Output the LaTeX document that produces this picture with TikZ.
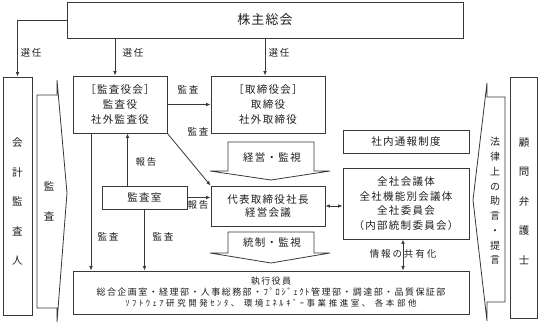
\documentclass[tikz,border=0pt]{standalone}
\usepackage{fontspec}
\setmainfont{Noto Sans CJK JP}
\newfontfamily\jpMain{Noto Sans CJK JP}[LetterSpace=12]
\newfontfamily\jpBig{Noto Sans CJK JP}[LetterSpace=8]
\newfontfamily\jpLab{Noto Sans CJK JP}[LetterSpace=20]
\newfontfamily\jpExec{Noto Sans CJK JP}[LetterSpace=16]
\newfontfamily\jpSmall{Noto Sans CJK JP}[LetterSpace=30]
\newfontfamily\jpPlain{Noto Sans CJK JP}
\usetikzlibrary{arrows.meta}
\definecolor{ln}{gray}{0.22}
\definecolor{tx}{gray}{0.12}
\begin{document}
\begin{tikzpicture}[x=1pt,y=-1pt,
  box/.style={draw=ln, line width=0.9pt, inner sep=0pt, align=center, text=tx,
    font=\fontsize{10.5pt}{15pt}\jpMain},
  arr/.style={draw=ln, line width=0.8pt, -{Latex[length=4.5pt,width=3.6pt]}},
  darr/.style={draw=ln, line width=0.8pt, {Latex[length=4.5pt,width=3.6pt]}-{Latex[length=4.5pt,width=3.6pt]}},
  lab/.style={inner sep=0pt, text=tx, font=\fontsize{9.5pt}{11pt}\jpLab},
  ctext/.style={inner sep=0pt, text=tx, font=\fontsize{10.5pt}{15pt}\jpMain},
  vtext/.style={inner sep=0pt, text=tx, align=center, font=\fontsize{10.5pt}{29.5pt}\jpPlain},
  vtextb/.style={inner sep=0pt, text=tx, align=center, font=\fontsize{10pt}{14.75pt}\jpPlain},
  callout/.style={draw=ln, line width=0.8pt, line join=miter}
]
\useasboundingbox (0,0) rectangle (542,325);
\fill[white] (0,0) rectangle (542,325);

% boxes
\node[box, minimum width=396pt, minimum height=36pt, font=\fontsize{13pt}{15pt}\jpBig] (kabu) at (265,20) {株主総会};
\node[box, minimum width=29pt, minimum height=238pt] (kaikei) at (17.5,196) {};
\node[box, minimum width=27pt, minimum height=241pt] (komon) at (524,197.5) {};
\node[box, minimum width=94pt, minimum height=57pt] (kansa) at (120,104.5) {［監査役会］\\監査役\\社外監査役};
\node[box, minimum width=114pt, minimum height=57pt] (tori) at (268,104.5) {［取締役会］\\取締役\\社外取締役};
\node[box, minimum width=126pt, minimum height=23pt] (tsuho) at (406,141.5) {社内通報制度};
\node[box, minimum width=126pt, minimum height=71pt, font=\fontsize{10.5pt}{14.7pt}\jpMain] (zensha) at (406,203.5) {全社会議体\\全社機能別会議体\\全社委員会\\（内部統制委員会）};
\node[box, minimum width=114pt, minimum height=40pt, font=\fontsize{10.5pt}{13.5pt}\jpMain] (daihyo) at (268,206) {代表取締役社長\\経営会議};
\node[box, minimum width=85pt, minimum height=23pt] (shitsu) at (144.5,197.5) {監査室};
\node[box, minimum width=396pt, minimum height=43pt, font=\fontsize{9pt}{11pt}\jpExec] (gyomu) at (271,292.5)
  {執行役員\\総合企画室・経理部・人事総務部・ﾌﾟﾛｼﾞｪｸﾄ管理部・調達部・品質保証部\\{\fontsize{8.5pt}{11pt}\jpSmall ｿﾌﾄｳｪｱ研究開発ｾﾝﾀ、 環境ｴﾈﾙｷﾞｰ事業推進室、 各本部他}};

% vertical texts
\node[vtext] (kaikeiT) at (17.5,201.5) {会\\計\\監\\査\\人};
\node[vtext] (komonT) at (524,201) {顧\\問\\弁\\護\\士};

% callouts
\draw[callout] (37,95) -- (57,95) -- (57,80) -- (67,193) -- (57,322) -- (57,308) -- (37,308) -- cycle;
\node[vtext] (kansaT) at (49,201.5) {監\\査};
\draw[callout] (505,97) -- (487,97) -- (487,83) -- (473,200) -- (487,321) -- (487,302) -- (505,302) -- cycle;
\node[vtextb] (horitsuT) at (495,201) {法\\律\\上\\の\\助\\言\\・\\提\\言};
\draw[callout] (228,142) -- (314,142) -- (314,171) -- (330,171) -- (271,180) -- (210,171) -- (228,171) -- cycle;
\node[ctext] (keieiT) at (272,158) {経営・監視};
\draw[callout] (228,232) -- (314,232) -- (314,253) -- (330,253) -- (271,263) -- (210,253) -- (228,253) -- cycle;
\node[ctext] (toseiT) at (272,243) {統制・監視};

% labels
\node[lab] (l1) at (31,53) {選任};
\node[lab] (l2) at (133,53) {選任};
\node[lab] (l3) at (279,53) {選任};
\node[lab] (l4) at (188,90) {監査};
\node[lab] (l5) at (198,132) {監査};
\node[lab] (l6) at (146,162) {報告};
\node[lab] (l7) at (198,205) {報告};
\node[lab] (l8) at (108,237) {監査};
\node[lab] (l9) at (163,237) {監査};
\node[lab] (l10) at (403,254) {情報の共有化};

% connectors
\draw[arr] (kabu.west) -| (kaikei.north);
\draw[arr] ([xshift=-5pt]kansa.north |- kabu.south) -- ([xshift=-5pt]kansa.north);
\draw[arr] ([xshift=-3pt]tori.north |- kabu.south) -- ([xshift=-3pt]tori.north);
\draw[arr] (kansa.east) -- (tori.west);
\draw[arr] (kansa.south east) -- (daihyo.north west);
\draw[arr] ([xshift=-17pt]shitsu.north) -- ([xshift=-17pt]shitsu.north |- kansa.south);
\draw[arr] (shitsu.east) -- (daihyo.west |- shitsu.east);
\draw[arr] ([xshift=-29pt]kansa.south) -- ([xshift=-29pt]kansa.south |- gyomu.north);
\draw[arr] (shitsu.south) -- (shitsu.south |- gyomu.north);
\draw[darr] (daihyo.east) -- (zensha.west |- daihyo.east);
\draw[darr] ([xshift=-3pt]zensha.south) -- ([xshift=-3pt]zensha.south |- gyomu.north);
\end{tikzpicture}
\end{document}
